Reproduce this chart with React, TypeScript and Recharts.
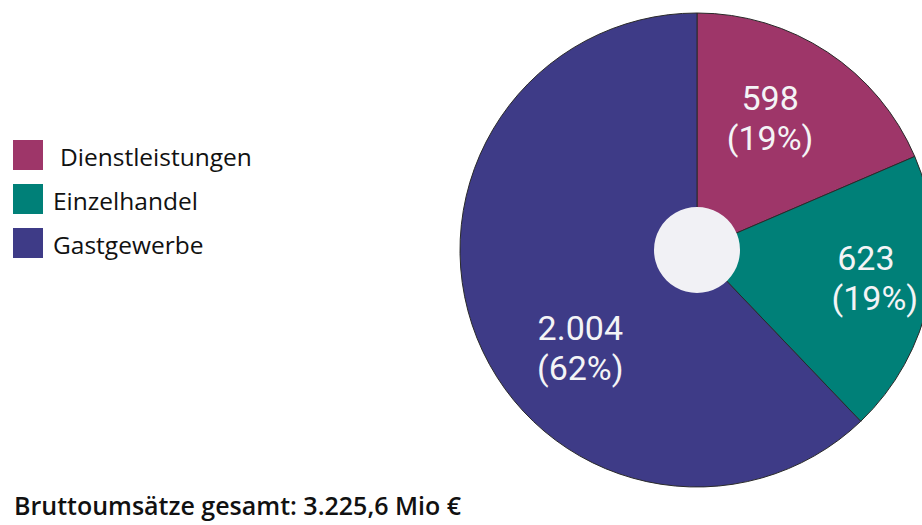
import { PieChart, Pie, Cell } from 'recharts'

const CATEGORIES = ['Dienstleistungen', 'Einzelhandel', 'Gastgewerbe']
const VALUES = [598, 623, 2004]
const TOTAL_LABEL = 'Bruttoumsätze gesamt: 3.225,6 Mio €'

const COLORS: Record<string, string> = {
  Dienstleistungen: '#9e3669',
  Einzelhandel: '#008078',
  Gastgewerbe: '#3e3b87',
}

// label placement tweaks: radius and angle shift from the slice middle
const LABEL_POS: Record<string, { r: number; shift: number; indent: number }> = {
  Dienstleistungen: { r: 152, shift: 4.6, indent: 0 },
  Einzelhandel: { r: 171, shift: 2.6, indent: 9 },
  Gastgewerbe: { r: 152, shift: 18, indent: 0 },
}

const RADIAN = Math.PI / 180
const LABEL_FONT = 'Roboto, sans-serif'
const TEXT_FONT = '"Open Sans", sans-serif'

const chartData = CATEGORIES.map((name, i) => ({ name, value: VALUES[i] }))
const hole = [{ name: 'hole', value: 1 }]

function fmtDe(n: number) {
  return String(n).replace(/\B(?=(\d{3})+(?!\d))/g, '.')
}

interface LabelProps {
  cx: number
  cy: number
  midAngle: number
  percent: number
  name: string
  value: number
}

function SliceLabel({ cx, cy, midAngle, percent, name, value }: LabelProps) {
  const pos = LABEL_POS[name] ?? { r: 150, shift: 0, indent: 0 }
  const a = (midAngle + pos.shift) * RADIAN
  const x = cx + pos.r * Math.cos(-a)
  const y = cy + pos.r * Math.sin(-a)
  return (
    <text
      x={x}
      y={y}
      textAnchor="middle"
      fill="#f4f4f6"
      fontFamily={LABEL_FONT}
      fontSize={34}
    >
      <tspan x={x} dy={-7}>{fmtDe(value)}</tspan>
      <tspan x={x + pos.indent} dy={40}>({Math.round(percent * 100)}%)</tspan>
    </text>
  )
}

export default function App() {
  return (
    <div
      style={{
        position: 'absolute',
        left: 0,
        top: 0,
        width: 922,
        height: 525,
        overflow: 'hidden',
        background: '#fff',
      }}
    >
      <PieChart
        width={922}
        height={525}
        margin={{ top: 0, right: 0, bottom: 0, left: 0 }}
        style={{ position: 'absolute', left: 0, top: 0 }}
      >
        <Pie
          data={chartData}
          dataKey="value"
          nameKey="name"
          cx={697}
          cy={250}
          outerRadius={237}
          startAngle={90}
          endAngle={-270}
          stroke="#2a2a2a"
          strokeWidth={1}
          label={SliceLabel as any}
          labelLine={false}
          isAnimationActive={false}
        >
          {chartData.map((entry) => (
            <Cell key={entry.name} fill={COLORS[entry.name]} />
          ))}
        </Pie>
        <Pie
          data={hole}
          dataKey="value"
          cx={697}
          cy={250}
          outerRadius={43}
          fill="#f1f1f5"
          stroke="none"
          isAnimationActive={false}
        />
      </PieChart>

      <div style={{ position: 'absolute', left: 13, top: 140 }}>
        {CATEGORIES.map((name, i) => (
          <div
            key={name}
            style={{ display: 'flex', alignItems: 'center', height: 44 }}
          >
            <span
              style={{
                width: 30,
                height: 30,
                background: COLORS[name],
                display: 'inline-block',
                marginTop: -14,
              }}
            />
            <span
              style={{
                marginLeft: i === 0 ? 17 : 10,
                marginTop: -12,
                fontFamily: TEXT_FONT,
                fontSize: 24.5,
                fontWeight: 500,
                color: '#111',
              }}
            >
              {name}
            </span>
          </div>
        ))}
      </div>

      <div
        style={{
          position: 'absolute',
          left: 14,
          top: 488,
          fontFamily: TEXT_FONT,
          fontSize: 25,
          fontWeight: 600,
          color: '#111',
          whiteSpace: 'nowrap',
        }}
      >
        {TOTAL_LABEL}
      </div>
    </div>
  )
}
